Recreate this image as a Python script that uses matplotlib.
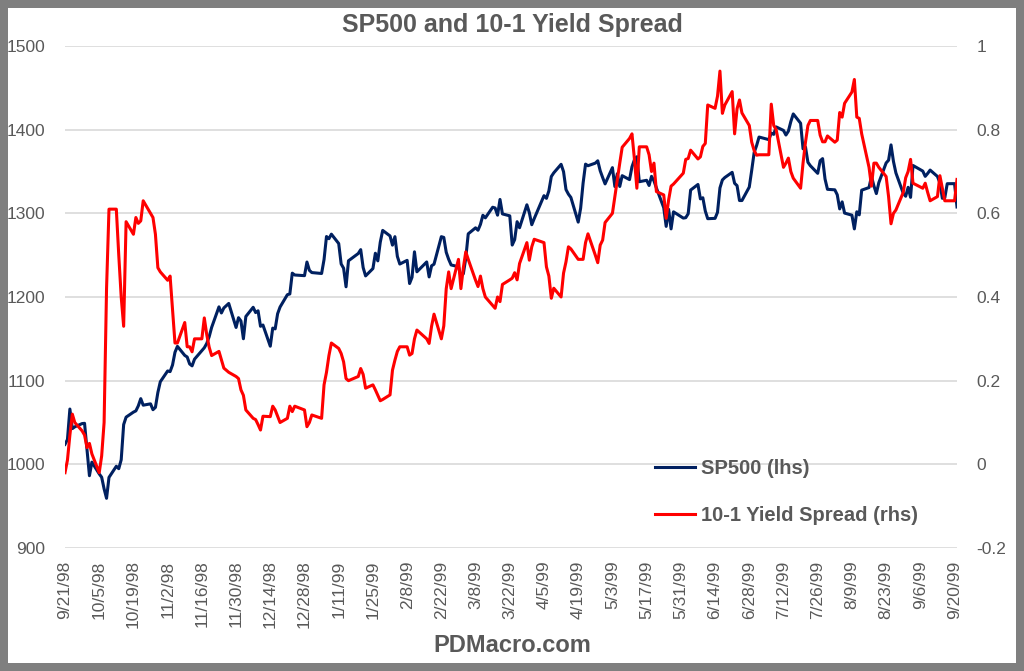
import pandas as pd
import matplotlib
matplotlib.use("Agg")
import matplotlib.pyplot as plt
from matplotlib.patches import Rectangle

# trading-day calendar (NYSE holidays in the window)
start_date = "1998-09-21"
end_date = "1999-09-21"
holidays = ["1998-11-26", "1998-12-25", "1999-01-01", "1999-01-18", "1999-02-15",
            "1999-04-02", "1999-05-31", "1999-07-05", "1999-09-06"]

sp500 = [
    # Sep 98
    1023.9, 1029.6, 1066.1, 1042.7, 1044.8, 1048.7, 1049.0, 1017.0,
    # Oct 98
    986.4, 1002.6, 988.6, 984.6, 970.7, 959.4, 984.4, 997.7, 994.8, 1005.5, 1047.5,
    1056.4, 1062.4, 1063.9, 1069.9, 1078.5, 1070.7, 1072.3, 1065.3, 1068.1, 1085.9, 1098.7,
    # Nov 98
    1111.6, 1110.8, 1118.7, 1133.9, 1141.0, 1130.2, 1128.3, 1120.0, 1117.7, 1125.7,
    1135.9, 1139.3, 1144.5, 1152.6, 1163.6, 1188.2, 1180.9, 1186.9, 1192.3, 1163.6,
    # Dec 98
    1175.3, 1171.3, 1150.1, 1176.7, 1187.7, 1181.4, 1183.5, 1165.0, 1166.5, 1141.2, 1162.8,
    1161.9, 1180.0, 1188.0, 1202.8, 1203.6, 1228.5, 1226.3, 1225.5, 1241.8, 1231.9, 1229.2,
    # Jan 99
    1228.1, 1244.8, 1272.3, 1269.7, 1275.1, 1263.9, 1239.5, 1234.4, 1212.2, 1243.3,
    1252.0, 1256.6, 1235.2, 1225.2, 1234.0, 1252.3, 1243.2, 1265.4, 1279.6,
    # Feb 99
    1273.0, 1262.0, 1272.1, 1248.5, 1239.4, 1243.8, 1216.1, 1223.6, 1254.0, 1230.1,
    1241.9, 1224.0, 1237.3, 1239.2, 1272.1, 1271.2, 1253.4, 1245.0, 1238.3,
    # Mar 99
    1236.2, 1225.5, 1227.7, 1246.6, 1275.5, 1282.7, 1279.8, 1286.8, 1297.7, 1294.6, 1307.3,
    1306.4, 1297.8, 1316.6, 1299.3, 1297.0, 1262.1, 1268.6, 1290.0, 1282.8, 1310.2, 1300.8, 1286.4,
    # Apr 99
    1293.7, 1321.1, 1317.9, 1326.9, 1344.0, 1348.4, 1358.6, 1349.8, 1328.4, 1322.9, 1319.0,
    1289.5, 1306.2, 1336.1, 1358.8, 1356.9, 1360.0, 1362.8, 1350.9, 1342.8, 1335.2,
    # May 99
    1354.6, 1332.0, 1347.3, 1332.1, 1345.0, 1340.3, 1355.6, 1364.0, 1367.6, 1337.8,
    1339.5, 1333.3, 1344.2, 1338.8, 1330.3, 1306.7, 1284.4, 1304.8, 1281.4, 1301.8,
    # Jun 99
    1294.3, 1294.8, 1299.5, 1327.8, 1334.5, 1317.3, 1318.6, 1302.8, 1293.6, 1294.0, 1301.2,
    1330.4, 1339.9, 1342.8, 1349.0, 1335.9, 1333.1, 1315.3, 1315.3, 1331.4, 1351.5, 1372.7,
    # Jul 99
    1381.0, 1391.2, 1388.1, 1395.9, 1394.4, 1403.3, 1399.1, 1393.6, 1398.2, 1409.6, 1418.8,
    1407.7, 1377.1, 1379.3, 1361.0, 1356.9, 1347.8, 1362.8, 1365.4, 1341.0, 1328.7,
    # Aug 99
    1328.1, 1322.2, 1305.3, 1313.7, 1300.3, 1297.8, 1281.4, 1301.9, 1298.2, 1327.7, 1330.8,
    1344.2, 1332.8, 1323.6, 1336.6, 1360.2, 1363.5, 1381.8, 1362.0, 1348.3, 1324.0, 1320.4,
    # Sep 99
    1331.1, 1319.1, 1357.2, 1350.5, 1344.2, 1347.7, 1351.7, 1344.1, 1336.3, 1318.0,
    1318.5, 1335.4, 1335.5, 1307.6,
]

spread = [
    # Sep 98
    -0.02, 0.01, 0.07, 0.12, 0.10, 0.08, 0.07, 0.04,
    # Oct 98
    0.05, 0.025, -0.02, 0.02, 0.10, 0.42, 0.61, 0.61, 0.50, 0.40, 0.33,
    0.58, 0.55, 0.59, 0.576, 0.582, 0.63, 0.60, 0.59, 0.55, 0.47, 0.46,
    # Nov 98
    0.44, 0.45, 0.37, 0.29, 0.29, 0.339, 0.281, 0.281, 0.269, 0.30,
    0.30, 0.35, 0.31, 0.28, 0.26, 0.27, 0.25, 0.23, 0.22, 0.21,
    # Dec 98
    0.205, 0.178, 0.165, 0.13, 0.11, 0.107, 0.095, 0.082, 0.115, 0.114, 0.139,
    0.13, 0.115, 0.10, 0.11, 0.139, 0.126, 0.139, 0.13, 0.09, 0.10, 0.118,
    # Jan 99
    0.11, 0.19, 0.22, 0.26, 0.29, 0.277, 0.265, 0.245, 0.205, 0.20,
    0.21, 0.229, 0.215, 0.182, 0.19, 0.178, 0.165, 0.152, 0.155,
    # Feb 99
    0.166, 0.225, 0.249, 0.27, 0.281, 0.281, 0.261, 0.265, 0.30, 0.321,
    0.30, 0.289, 0.33, 0.359, 0.30, 0.331, 0.42, 0.46, 0.42,
    # Mar 99
    0.49, 0.42, 0.47, 0.508, 0.49, 0.44, 0.425, 0.45, 0.42, 0.40, 0.38, 0.373,
    0.40, 0.389, 0.43, 0.441, 0.445, 0.458, 0.441, 0.48, 0.53, 0.488, 0.52,
    # Apr 99
    0.538, 0.53, 0.472, 0.45, 0.397, 0.421, 0.40, 0.457, 0.484, 0.52, 0.515,
    0.49, 0.49, 0.49, 0.53, 0.551, 0.50, 0.482, 0.524, 0.536, 0.578,
    # May 99
    0.60, 0.64, 0.68, 0.72, 0.758, 0.779, 0.79, 0.73, 0.66, 0.759,
    0.759, 0.74, 0.70, 0.72, 0.652, 0.644, 0.588, 0.632, 0.665, 0.670,
    # Jun 99
    0.696, 0.729, 0.731, 0.751, 0.73, 0.735, 0.76, 0.767, 0.859, 0.851, 0.88,
    0.94, 0.839, 0.859, 0.891, 0.79, 0.85, 0.871, 0.84, 0.81, 0.77, 0.75,
    # Jul 99
    0.739, 0.74, 0.74, 0.861, 0.81, 0.80, 0.71, 0.72, 0.732, 0.70, 0.684,
    0.66, 0.72, 0.77, 0.81, 0.822, 0.822, 0.787, 0.771, 0.771, 0.785,
    # Aug 99
    0.77, 0.775, 0.841, 0.83, 0.863, 0.89, 0.92, 0.83, 0.827, 0.79, 0.71,
    0.665, 0.72, 0.72, 0.71, 0.688, 0.64, 0.575, 0.60, 0.608, 0.65, 0.685,
    # Sep 99
    0.70, 0.729, 0.672, 0.66, 0.672, 0.65, 0.63, 0.64, 0.69, 0.66,
    0.63, 0.63, 0.63, 0.681,
]

left_ticks = [900, 1000, 1100, 1200, 1300, 1400, 1500]
right_ticks = [-0.2, 0, 0.2, 0.4, 0.6, 0.8, 1]
right_labels = ["-0.2", "0", "0.2", "0.4", "0.6", "0.8", "1"]

dates = pd.bdate_range(start_date, end_date)
dates = dates[~dates.isin(pd.to_datetime(holidays))]
assert len(dates) == len(sp500) == len(spread), (len(dates), len(sp500), len(spread))
tick_dates = pd.date_range(start_date, "1999-09-20", freq="14D")
tick_labels = [f"{d.month}/{d.day}/{d.strftime('%y')}" for d in tick_dates]

plt.rcParams["font.family"] = ["Liberation Sans", "DejaVu Sans"]
grey = "#595959"

fig = plt.figure(figsize=(10.24, 6.71), dpi=100)
fig.patch.set_facecolor("#7f7f7f")
fig.patches.append(Rectangle((8 / 1024, 8 / 671), 1 - 16 / 1024, 1 - 16 / 671,
                             transform=fig.transFigure, facecolor="white",
                             edgecolor="none", zorder=-5))

ax = fig.add_axes([65 / 1024, 1 - 548 / 671, 892 / 1024, 502 / 671])
ax2 = ax.twinx()

l1, = ax.plot(dates, sp500, color="#002060", lw=2.2, label="SP500 (lhs)")
l2, = ax2.plot(dates, spread, color="#FF0000", lw=2.2, label="10-1 Yield Spread (rhs)")

ax.set_xlim(dates[0], dates[-1])
ax.set_ylim(900, 1500)
ax2.set_ylim(-0.2, 1)
ax.set_yticks(left_ticks)
ax2.set_yticks(right_ticks)
ax2.set_yticklabels(right_labels)
ax.set_xticks(tick_dates)
ax.set_xticklabels(tick_labels, rotation=90)
ax.grid(axis="y", color="#d9d9d9", lw=1.2)
ax.set_axisbelow(True)

for a in (ax, ax2):
    for s in a.spines.values():
        s.set_visible(False)
    a.tick_params(length=0, colors=grey, labelsize=12.5)
ax.tick_params(axis="y", pad=14)
ax2.tick_params(axis="y", pad=14)
ax.tick_params(axis="x", pad=9, labelsize=12.5)

fig.text(0.5, 1 - 25 / 671, "SP500 and 10-1 Yield Spread", ha="center", va="center",
         fontsize=18, fontweight="bold", color=grey)
fig.text(0.5, 1 - 645 / 671, "PDMacro.com", ha="center", va="center",
         fontsize=17, fontweight="bold", color=grey)

leg = fig.legend(handles=[l1, l2], loc="upper left",
                 bbox_to_anchor=(637 / 1024, 1 - 441 / 671), frameon=False,
                 handlelength=2.0, handletextpad=0.3, labelspacing=1.4,
                 prop={"weight": "bold", "size": 14.5})
for t in leg.get_texts():
    t.set_color(grey)

fig.savefig("out.png", dpi=100)
